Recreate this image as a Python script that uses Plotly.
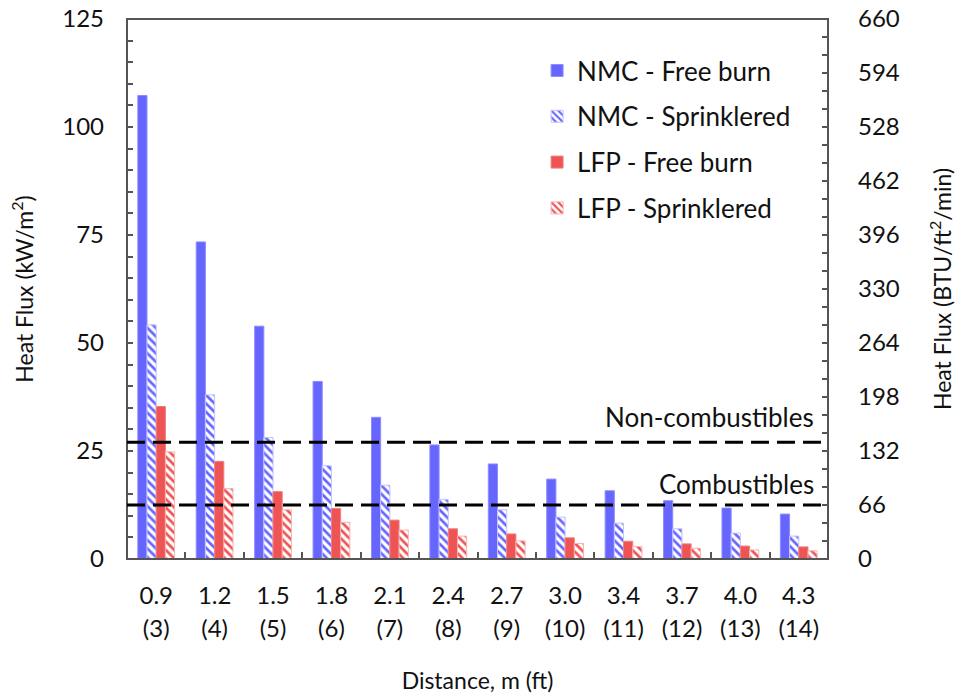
import plotly.graph_objects as go

# Distances (m) with the feet equivalent shown on a second line
distance_m = ["0.9", "1.2", "1.5", "1.8", "2.1", "2.4", "2.7", "3.0", "3.4", "3.7", "4.0", "4.3"]
distance_ft = ["(3)", "(4)", "(5)", "(6)", "(7)", "(8)", "(9)", "(10)", "(11)", "(12)", "(13)", "(14)"]

# Peak heat flux, kW/m2
nmc_free = [107.3, 73.4, 53.9, 41.1, 32.8, 26.4, 22.0, 18.5, 15.8, 13.5, 11.8, 10.4]
nmc_sprinklered = [54.2, 38.0, 28.1, 21.6, 17.1, 13.8, 11.4, 9.7, 8.3, 7.0, 6.0, 5.3]
lfp_free = [35.3, 22.6, 15.6, 11.7, 9.0, 7.0, 5.8, 4.9, 4.1, 3.5, 3.0, 2.8]
lfp_sprinklered = [24.8, 16.3, 11.4, 8.5, 6.7, 5.3, 4.2, 3.6, 2.9, 2.5, 2.1, 1.9]

# Ignition thresholds, kW/m2
non_combustible_limit = 27.0
combustible_limit = 12.5

# Axis scales
kw_max = 125
btu_max = 660
btu_ticks = list(range(0, 661, 66))

BLUE = "#6666ff"
RED = "#ee5454"
FONT = "Lato"
TXT = "#111111"
AXIS = "#555555"

fig = go.Figure()


def add_bar(name, values, color, edge, hatched):
    marker = dict(color=color, line=dict(color=edge, width=1))
    if hatched:
        marker = dict(
            color="white",
            line=dict(color=edge, width=1),
            pattern=dict(shape="\\", fgcolor=color, bgcolor="white",
                         size=6, solidity=0.45, fillmode="replace"),
        )
    fig.add_trace(go.Bar(x=distance_m, y=values, name=name, marker=marker,
                         legendgroup=name))


add_bar("NMC - Free burn", nmc_free, BLUE, "#8c8cff", False)
add_bar("NMC - Sprinklered", nmc_sprinklered, BLUE, "#c4c4ff", True)
add_bar("LFP - Free burn", lfp_free, RED, "#f08080", False)
add_bar("LFP - Sprinklered", lfp_sprinklered, RED, "#f4b4b4", True)

# Invisible anchor traces so the secondary axes are laid out
fig.add_trace(go.Scatter(x=[0], y=[0], xaxis="x2", yaxis="y", mode="markers",
                         marker=dict(opacity=0), showlegend=False,
                         hoverinfo="skip"))
fig.add_trace(go.Scatter(x=[distance_m[0]], y=[0], xaxis="x", yaxis="y2",
                         mode="markers", marker=dict(opacity=0),
                         showlegend=False, hoverinfo="skip"))

# Plot frame
fig.add_shape(type="rect", xref="paper", yref="paper", x0=0, x1=1, y0=0, y1=1,
              line=dict(color=AXIS, width=2), fillcolor="rgba(0,0,0,0)",
              layer="above")

# Threshold lines
for level in (non_combustible_limit, combustible_limit):
    fig.add_shape(type="line", xref="paper", x0=0, x1=1, yref="y",
                  y0=level, y1=level,
                  line=dict(color="black", width=3, dash="18px,8px"))

fig.add_annotation(text="Non-combustibles", xref="paper", x=0.983,
                   xanchor="right", yref="y", y=non_combustible_limit,
                   yanchor="middle", yshift=25, showarrow=False,
                   font=dict(family=FONT, size=26, color=TXT))
fig.add_annotation(text="Combustibles", xref="paper", x=0.983,
                   xanchor="right", yref="y", y=combustible_limit,
                   yanchor="middle", yshift=21, showarrow=False,
                   font=dict(family=FONT, size=26, color=TXT))

tick_style = dict(ticks="inside", ticklen=6, tickwidth=1.5, tickcolor=AXIS,
                  showgrid=False, zeroline=False, showline=False,
                  automargin=False)

fig.update_layout(
    width=956, height=696,
    margin=dict(l=127, r=128, t=19, b=137),
    paper_bgcolor="white", plot_bgcolor="white",
    font=dict(family=FONT, size=23, color=TXT),
    barmode="group", bargap=0.37, bargroupgap=0,
    showlegend=True,
    legend=dict(x=0.585, y=0.948, xanchor="left", yanchor="top",
                bgcolor="rgba(0,0,0,0)", traceorder="grouped",
                tracegroupgap=9, font=dict(family=FONT, size=26, color=TXT)),
    xaxis=dict(
        type="category", range=[-0.5, 11.5],
        tickson="boundaries", **{**tick_style, "ticklen": 7},
        ticklabelstandoff=20,
        tickfont=dict(family=FONT, size=24, color=TXT),
        title=dict(text="Distance, m (ft)", standoff=64,
                   font=dict(family=FONT, size=23, color=TXT)),
    ),
    xaxis2=dict(
        overlaying="x", anchor="y", side="bottom", range=[-0.5, 11.5],
        tickvals=list(range(len(distance_ft))), ticktext=distance_ft,
        showline=False, ticks="", showgrid=False, zeroline=False,
        automargin=False, ticklabelstandoff=53,
        tickfont=dict(family=FONT, size=24, color=TXT),
    ),
    yaxis=dict(
        range=[0, kw_max], dtick=25, **tick_style,
        minor=dict(dtick=5, ticks="inside", ticklen=6, tickwidth=1.5,
                   tickcolor=AXIS, showgrid=False),
        ticklabelstandoff=22,
        tickfont=dict(family=FONT, size=24, color=TXT),
        title=dict(text="Heat Flux (kW/m<sup>2</sup>)", standoff=22,
                   font=dict(family=FONT, size=23, color=TXT)),
    ),
    yaxis2=dict(
        overlaying="y", side="right", anchor="x", range=[0, btu_max],
        tickvals=btu_ticks, **tick_style,
        minor=dict(dtick=22, ticks="inside", ticklen=6, tickwidth=1.5,
                   tickcolor=AXIS, showgrid=False),
        ticklabelstandoff=29,
        tickfont=dict(family=FONT, size=24, color=TXT),
        title=dict(text="Heat Flux (BTU/ft<sup>2</sup>/min)", standoff=36,
                   font=dict(family=FONT, size=23, color=TXT)),
    ),
)

fig.write_html("out.html")
